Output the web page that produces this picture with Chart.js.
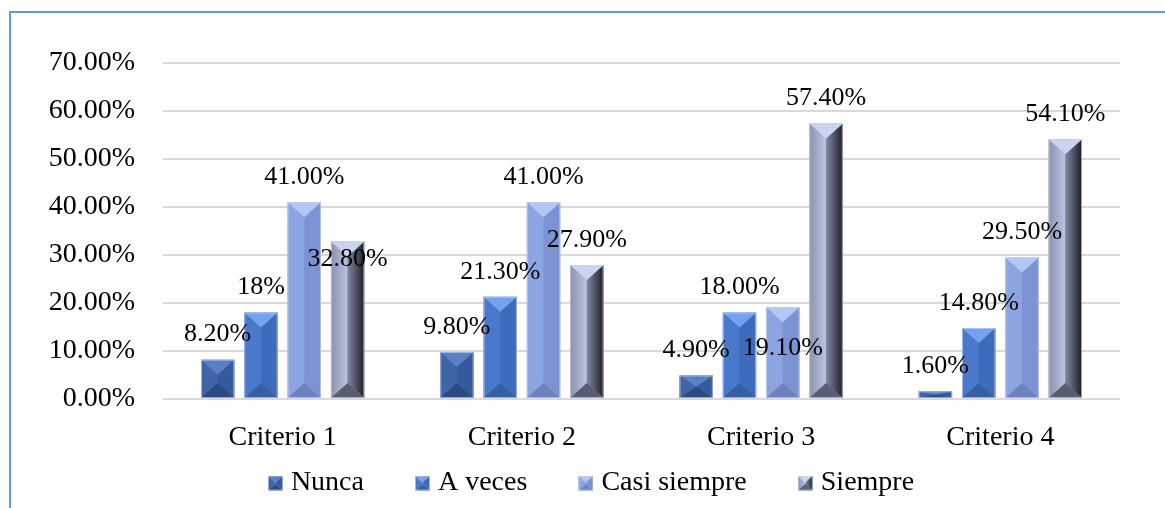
<!DOCTYPE html>
<html>
<head>
<meta charset="utf-8">
<script src="https://cdn.jsdelivr.net/npm/chart.js@4"></script>
<style>
  body { margin: 0; background: #fff; }
  #frame { position: absolute; left: 9px; top: 11px; width: 1300px; height: 700px; border: 2px solid #5b9bd5; }
  #wrap { position: absolute; left: 0; top: 0; width: 1165px; height: 508px; }
</style>
</head>
<body>
<div id="frame"></div>
<div id="wrap"><canvas id="chart" width="1165" height="508"></canvas></div>
<script>
// Data
const categories = ['Criterio 1', 'Criterio 2', 'Criterio 3', 'Criterio 4'];
const nunca = [8.2, 9.8, 4.9, 1.6];
const aVeces = [18, 21.3, 18, 14.8];
const casiSiempre = [41, 41, 19.1, 29.5];
const siempre = [32.8, 27.9, 57.4, 54.1];

// value labels as printed on the chart
const nuncaText = ['8.20%', '9.80%', '4.90%', '1.60%'];
const aVecesText = ['18%', '21.30%', '18.00%', '14.80%'];
const casiText = ['41.00%', '41.00%', '19.10%', '29.50%'];
const siempreText = ['32.80%', '27.90%', '57.40%', '54.10%'];

// a couple of labels were dragged down inside the bars
const labelShift = { '3-0': 43, '2-2': 66 };

const serif = '"Liberation Serif", "Times New Roman", serif';

// bevel face colours per series
const bevel = [
    { top: '#5a80c2', left: '#3f65a8', right: '#365b9c', bottom: '#2b4a82' },
    { top: '#74a1f0', left: '#4a79cc', right: '#3f6bba', bottom: '#3560a6' },
    { top: '#b2c7f6', left: '#8ca4e2', right: '#7b93d2', bottom: '#6c82bf' },
    { top: '#cad4f2', left: ['#8a92aa', '#bac5e5'], right: ['#80889f', '#1c1f27'], bottom: '#585e72' }
];

function face(ctx, pts, fill, x0, x1) {
    ctx.beginPath();
    ctx.moveTo(pts[0][0], pts[0][1]);
    for (let i = 1; i < pts.length; i++) ctx.lineTo(pts[i][0], pts[i][1]);
    ctx.closePath();
    if (Array.isArray(fill)) {
        const g = ctx.createLinearGradient(x0, 0, x1, 0);
        g.addColorStop(0, fill[0]);
        g.addColorStop(1, fill[1]);
        ctx.fillStyle = g;
    } else {
        ctx.fillStyle = fill;
    }
    ctx.fill();
}

function drawBevel(ctx, L, T, R, B, c) {
    const w = R - L, h = B - T;
    const C = (L + R) / 2;
    const d = Math.min(w * 0.45, h / 2);
    face(ctx, [[L, T], [C, T + d], [C, B - d], [L, B]], c.left, L, C);
    face(ctx, [[R, T], [C, T + d], [C, B - d], [R, B]], c.right, C, R);
    face(ctx, [[L, B], [R, B], [C, B - d]], c.bottom);
    face(ctx, [[L, T], [R, T], [C, T + d]], c.top);
    ctx.strokeStyle = 'rgba(200,210,235,0.7)';
    ctx.lineWidth = 1;
    ctx.strokeRect(L + 0.5, T + 0.5, w - 1, h - 1);
}

function legendIcon(c) {
    const cv = document.createElement('canvas');
    cv.width = 15; cv.height = 15;
    drawBevel(cv.getContext('2d'), 0, 0, 15, 15, c);
    return cv;
}

const bevelPlugin = {
    id: 'bevel',
    afterDatasetDraw(chart, args) {
        const ctx = chart.ctx;
        const c = bevel[args.index];
        ctx.save();
        args.meta.data.forEach(el => {
            const p = el.getProps(['x', 'y', 'base', 'width'], true);
            drawBevel(ctx, p.x - p.width / 2, Math.min(p.y, p.base), p.x + p.width / 2, Math.max(p.y, p.base), c);
        });
        ctx.restore();
    }
};

const valueLabels = {
    id: 'valueLabels',
    afterDatasetsDraw(chart) {
        const ctx = chart.ctx;
        ctx.save();
        ctx.font = '26px ' + serif;
        ctx.fillStyle = '#000';
        ctx.textAlign = 'center';
        ctx.textBaseline = 'middle';
        chart.data.datasets.forEach((ds, i) => {
            chart.getDatasetMeta(i).data.forEach((el, j) => {
                const p = el.getProps(['x', 'y'], true);
                const dy = labelShift[i + '-' + j] || 0;
                ctx.fillText(ds.texts[j], p.x, p.y - 25 + dy);
            });
        });
        ctx.restore();
    }
};

// legend: small box in the layout, then moved up/right where the original has it
const legendFix = {
    id: 'legendFix',
    beforeLayout(chart) {
        const lg = chart.legend;
        if (lg && !lg._fixed) {
            const fit = lg.fit.bind(lg);
            lg.fit = function () { fit(); this.height = 53; };
            lg._fixed = true;
        }
    },
    afterLayout(chart) {
        const lg = chart.legend;
        if (!lg) return;
        lg.top -= 43;
        lg.left += 34;
        lg.right += 34;
    }
};

const ctx = document.getElementById('chart').getContext('2d');
new Chart(ctx, {
    type: 'bar',
    data: {
        labels: categories,
        datasets: [
            { label: 'Nunca', data: nunca, texts: nuncaText, backgroundColor: bevel[0].left },
            { label: 'A veces', data: aVeces, texts: aVecesText, backgroundColor: bevel[1].left },
            { label: 'Casi siempre', data: casiSiempre, texts: casiText, backgroundColor: bevel[2].left },
            { label: 'Siempre', data: siempre, texts: siempreText, backgroundColor: '#9aa3bf' }
        ]
    },
    options: {
        responsive: false,
        animation: false,
        categoryPercentage: 0.724,
        barPercentage: 0.77,
        layout: { padding: { top: 63, right: 45, bottom: 0, left: 0 } },
        plugins: {
            tooltip: { enabled: false },
            legend: {
                position: 'bottom',
                labels: {
                    color: '#000',
                    font: { family: serif, size: 28 },
                    usePointStyle: true,
                    pointStyleWidth: 3,
                    boxHeight: 15,
                    padding: 57,
                    generateLabels(chart) {
                        return chart.data.datasets.map((ds, i) => ({
                            text: ds.label,
                            pointStyle: legendIcon(bevel[i]),
                            fillStyle: 'transparent',
                            strokeStyle: 'transparent',
                            lineWidth: 0,
                            fontColor: '#000',
                            datasetIndex: i
                        }));
                    }
                }
            }
        },
        scales: {
            x: {
                grid: { display: false, drawTicks: false },
                border: { display: false },
                ticks: { color: '#000', font: { family: serif, size: 28 }, padding: 22 },
                afterFit(scale) { scale.height = 56; }
            },
            y: {
                min: 0,
                max: 70,
                ticks: {
                    stepSize: 10,
                    color: '#000',
                    padding: 28,
                    font: { family: serif, size: 28 },
                    callback: v => v.toFixed(2) + '%'
                },
                grid: { color: '#d9d9d9', lineWidth: 2, drawTicks: false },
                border: { display: false },
                afterFit(scale) { scale.width = 163; }
            }
        }
    },
    plugins: [bevelPlugin, valueLabels, legendFix]
});
</script>
</body>
</html>
